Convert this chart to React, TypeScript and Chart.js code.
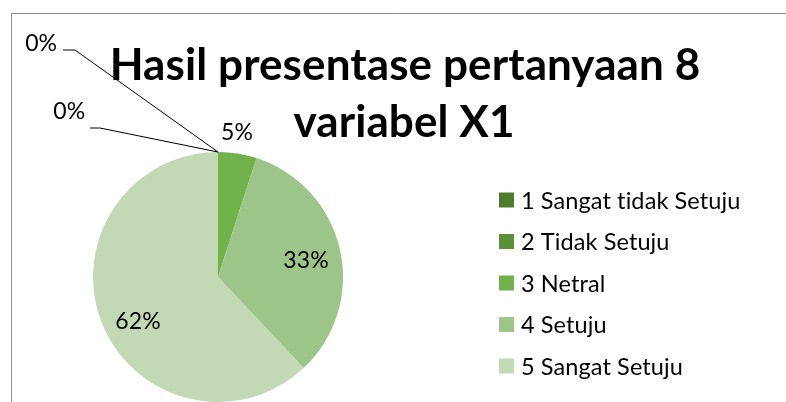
import React, { useEffect, useRef } from "react";
import { Chart, registerables } from "chart.js";

Chart.register(...registerables);

const categories = [
  "1 Sangat tidak Setuju",
  "2 Tidak Setuju",
  "3 Netral",
  "4 Setuju",
  "5 Sangat Setuju",
];
const percentValues = [0, 0, 5, 33, 62];
const percentLabels = ["0%", "0%", "5%", "33%", "62%"];
const titleLines = ["Hasil presentase pertanyaan 8", "variabel X1"];

const sliceColors = ["#4e7a2f", "#5b9037", "#72b24b", "#9dc58a", "#c3d9b5"];
const FONT = "Lato, 'Open Sans', sans-serif";

// label anchor positions in units of radius relative to pie centre
const labelPlacement = [
  { tx: -1.19, ty: -1.325, elbow: [-0.944, -1.192], end: [-1.024, -1.192] },
  { tx: -1.415, ty: -1.865, elbow: [-1.144, -1.816], end: [-1.24, -1.816] },
  { tx: 0.152, ty: -1.152 },
  { tx: 0.704, ty: -0.128 },
  { tx: -0.64, ty: 0.36 },
];

const decorPlugin = {
  id: "decor",
  beforeDraw(chart: any) {
    const ctx = chart.ctx;
    ctx.save();
    ctx.fillStyle = "#ffffff";
    ctx.fillRect(0, 0, chart.width, chart.height);
    ctx.strokeStyle = "#8c8c8c";
    ctx.lineWidth = 1;
    ctx.beginPath();
    ctx.moveTo(11.5, chart.height);
    ctx.lineTo(11.5, 13.5);
    ctx.lineTo(chart.width, 13.5);
    ctx.stroke();
    ctx.restore();
  },
  afterDatasetsDraw(chart: any) {
    const ctx = chart.ctx;
    const meta = chart.getDatasetMeta(0);
    ctx.save();
    try {
      (ctx as any).letterSpacing = "0.1px";
    } catch (e) {}
    // title
    ctx.fillStyle = "#000000";
    ctx.textAlign = "center";
    ctx.textBaseline = "alphabetic";
    ctx.font = `bold 44px ${FONT}`;
    ctx.fillText(titleLines[0], 405, 80);
    ctx.fillText(titleLines[1], 404, 137);

    // data labels
    ctx.font = `23px ${FONT}`;
    ctx.textBaseline = "middle";
    meta.data.forEach((arc: any, i: number) => {
      const p = arc.getProps(["x", "y", "outerRadius", "startAngle", "endAngle"], true);
      const R = p.outerRadius;
      const pl = labelPlacement[i];
      if (pl.elbow) {
        const mid = (p.startAngle + p.endAngle) / 2;
        const sx = p.x + Math.cos(mid) * R;
        const sy = p.y + Math.sin(mid) * R;
        ctx.strokeStyle = "#000000";
        ctx.lineWidth = 1;
        ctx.beginPath();
        ctx.moveTo(sx, sy);
        ctx.lineTo(p.x + pl.elbow[0] * R, p.y + pl.elbow[1] * R);
        ctx.lineTo(p.x + pl.end[0] * R, p.y + pl.end[1] * R);
        ctx.stroke();
      }
      ctx.fillStyle = "#000000";
      ctx.fillText(percentLabels[i], p.x + pl.tx * R, p.y + pl.ty * R);
    });

    // legend
    ctx.textAlign = "left";
    ctx.font = `23.5px ${FONT}`;
    categories.forEach((c, i) => {
      const y = 200 + i * 41.5;
      ctx.fillStyle = sliceColors[i];
      ctx.fillRect(499, y - 7.5, 15, 15);
      ctx.fillStyle = "#000000";
      ctx.fillText(c, 521, y + 1);
    });
    ctx.restore();
  },
};

export default function App() {
  const ref = useRef<HTMLCanvasElement>(null);
  useEffect(() => {
    if (!ref.current) return;
    const chart = new Chart(ref.current, {
      type: "pie",
      data: {
        labels: categories,
        datasets: [
          {
            data: percentValues,
            backgroundColor: sliceColors,
            borderWidth: 0,
          },
        ],
      },
      options: {
        responsive: false,
        animation: false,
        layout: { padding: { left: 93, right: 443, top: 152, bottom: 0 } },
        plugins: {
          legend: { display: false },
          title: { display: false },
          tooltip: { enabled: false },
        },
      },
      plugins: [decorPlugin],
    });
    return () => chart.destroy();
  }, []);
  return (
    <div style={{ position: "fixed", left: 0, top: 0, width: 786, height: 402, background: "#fff" }}>
      <canvas ref={ref} width={786} height={402} style={{ display: "block" }} />
    </div>
  );
}
